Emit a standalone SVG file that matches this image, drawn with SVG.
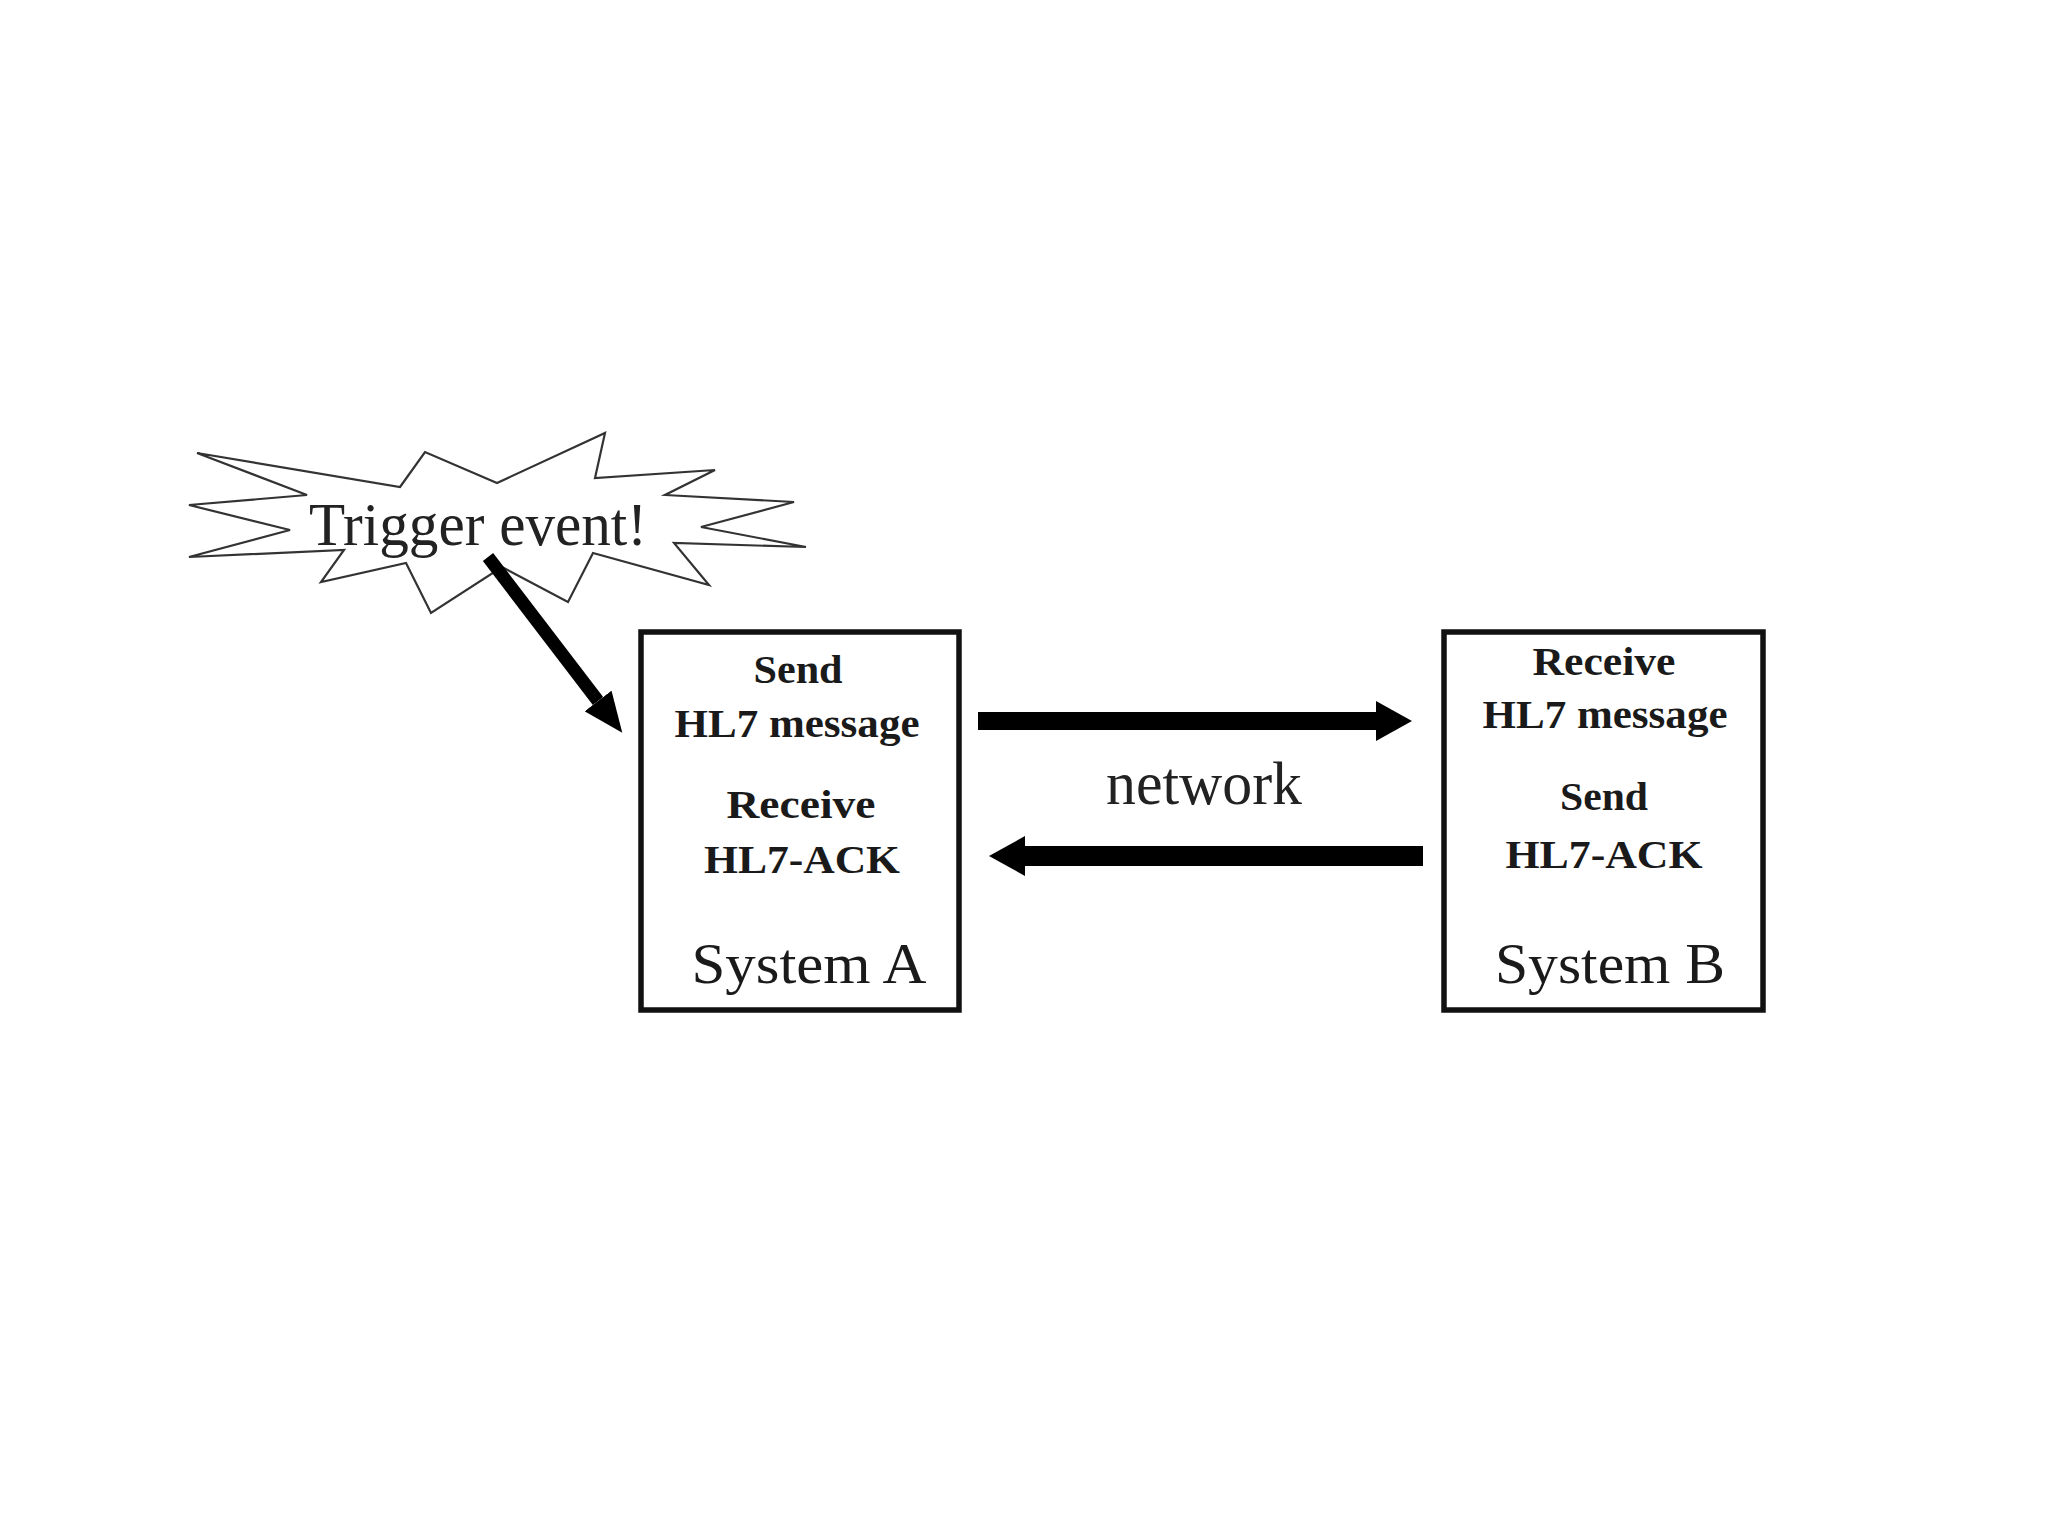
<svg xmlns="http://www.w3.org/2000/svg" width="2048" height="1536" viewBox="0 0 2048 1536">
<style>
.box{fill:#fff;stroke:#111;stroke-width:5.5}
.burst{fill:#fff;stroke:#333;stroke-width:2.2;stroke-linejoin:miter}
.lbl{font-family:"Liberation Serif","Times New Roman",serif;font-weight:bold;font-size:40px;fill:#1a1a1a;text-anchor:middle}
.sys{font-family:"Liberation Serif","Times New Roman",serif;font-size:57px;fill:#1a1a1a;text-anchor:middle}
.big{font-family:"Liberation Serif","Times New Roman",serif;font-size:62px;fill:#222;text-anchor:middle}
.conn{stroke:#000;fill:none}
</style>
<defs>
<marker id="head" markerUnits="userSpaceOnUse" viewBox="0 0 36 40" markerWidth="36" markerHeight="40" refX="0" refY="20" orient="auto">
<path d="M0,0 L36,20 L0,40 z" fill="#000"/>
</marker>
<marker id="headS" markerUnits="userSpaceOnUse" viewBox="0 0 40 34" markerWidth="40" markerHeight="34" refX="0" refY="17" orient="auto">
<path d="M0,0 L40,17 L0,34 z" fill="#000"/>
</marker>
</defs>
<rect width="2048" height="1536" fill="#fff"/>
<g id="trigger">
<polygon class="burst" points="400,487 425,452 497,483 605,433 595,478 715,470 665,495 794,502 701,527 806,547 674,543 709,585 593,553 568,602 502,567 431,613 406,563 321,582 344,550 189,557 290,530 189,505 307,495 197,453"/>
<text class="big" x="478" y="545" font-size="60" textLength="338" lengthAdjust="spacingAndGlyphs">Trigger event!</text>
</g>
<g id="systemA">
<rect class="box" x="641" y="632" width="318" height="378"/>
<text class="lbl" x="798" y="683" textLength="89" lengthAdjust="spacingAndGlyphs">Send</text>
<text class="lbl" x="797" y="737" textLength="245" lengthAdjust="spacingAndGlyphs">HL7 message</text>
<text class="lbl" x="801" y="818" textLength="149" lengthAdjust="spacingAndGlyphs">Receive</text>
<text class="lbl" x="802" y="873" textLength="196" lengthAdjust="spacingAndGlyphs">HL7-ACK</text>
<text class="sys" x="809" y="983" textLength="235" lengthAdjust="spacingAndGlyphs">System A</text>
</g>
<g id="systemB">
<rect class="box" x="1444" y="632" width="319" height="378"/>
<text class="lbl" x="1604" y="675" textLength="143" lengthAdjust="spacingAndGlyphs">Receive</text>
<text class="lbl" x="1605" y="728" textLength="245" lengthAdjust="spacingAndGlyphs">HL7 message</text>
<text class="lbl" x="1604" y="810" textLength="88" lengthAdjust="spacingAndGlyphs">Send</text>
<text class="lbl" x="1604" y="868" textLength="197" lengthAdjust="spacingAndGlyphs">HL7-ACK</text>
<text class="sys" x="1610" y="983" textLength="230" lengthAdjust="spacingAndGlyphs">System B</text>
</g>
<g id="connectors">
<line class="conn" x1="488" y1="557" x2="598" y2="701" stroke-width="13" marker-end="url(#headS)"/>
<line class="conn" x1="978" y1="721" x2="1376" y2="721" stroke-width="18" marker-end="url(#head)"/>
<line class="conn" x1="1423" y1="856" x2="1025" y2="856" stroke-width="20" marker-end="url(#head)"/>
<text class="big" x="1204" y="804" font-size="64" textLength="196" lengthAdjust="spacingAndGlyphs">network</text>
</g>
</svg>
